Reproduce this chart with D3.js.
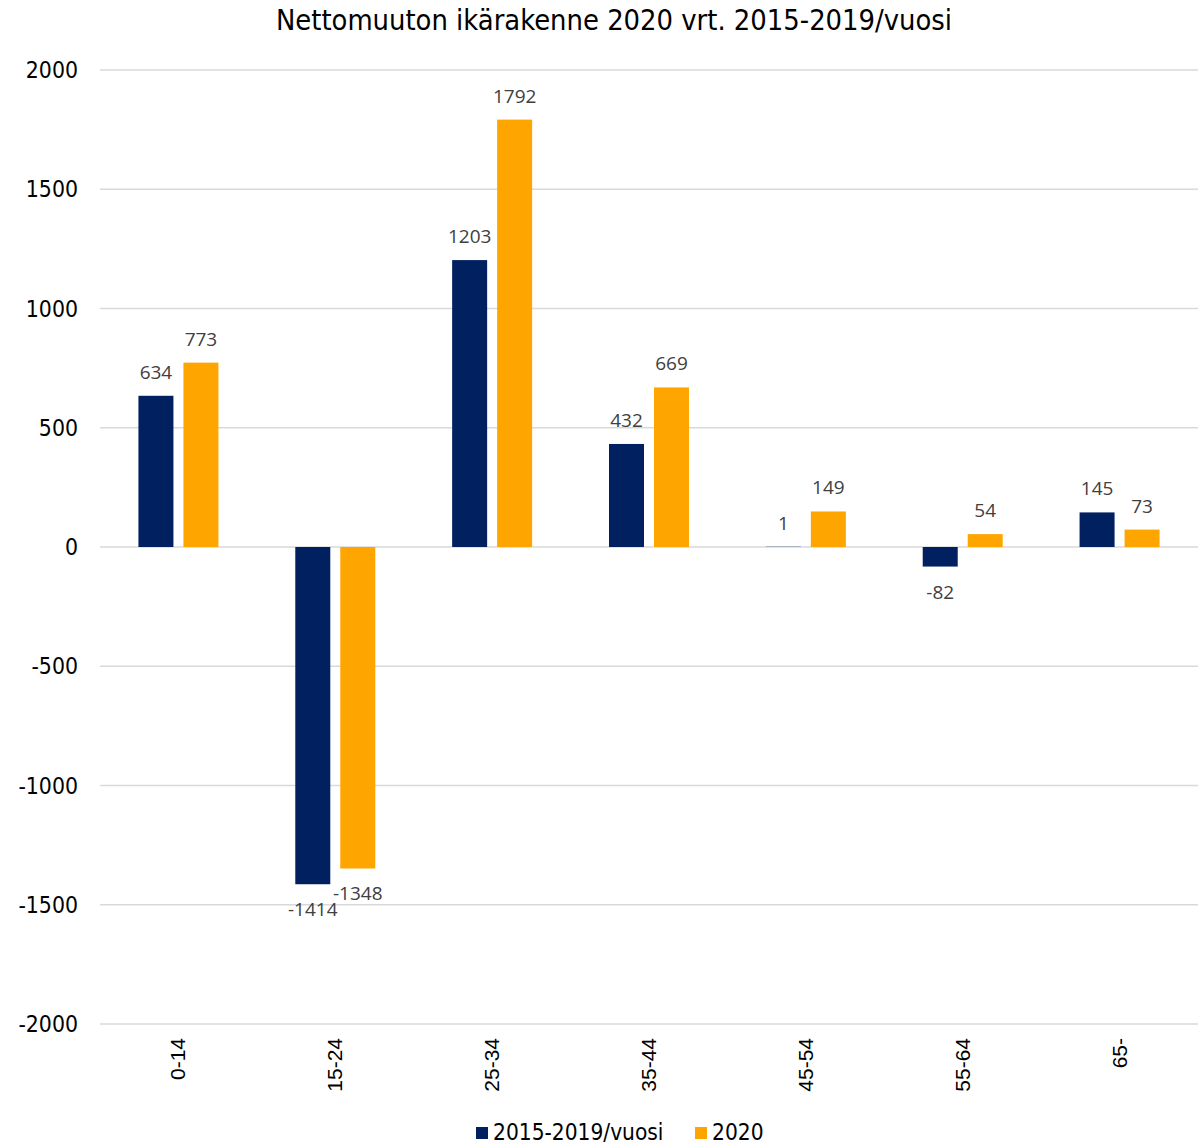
<!DOCTYPE html>
<html><head><meta charset="utf-8">
<script src="https://cdn.jsdelivr.net/npm/d3@7/dist/d3.min.js"></script>
<style>body{margin:0;background:#fff}</style>
</head><body>
<script>
const categories = ["0-14","15-24","25-34","35-44","45-54","55-64","65-"];
const seriesNames = ["2015-2019/vuosi","2020"];
const values2015_2019 = [634,-1414,1203,432,1,-82,145];
const values2020 = [773,-1348,1792,669,149,54,73];
const yTicks = [-2000,-1500,-1000,-500,0,500,1000,1500,2000];
const colors = ["#002060","#FFA500"];

(function(){
const W=1198,H=1148;
const svg=d3.select("body").append("svg").attr("width",W).attr("height",H);
const mLeft=100,mRight=1198,mTop=70,mBottom=1024;
const x=d3.scaleBand().domain(categories).range([mLeft,mRight]).paddingInner(0).paddingOuter(0);
const y=d3.scaleLinear().domain([-2000,2000]).range([mBottom,mTop]);
const barW=35,gap=10;

svg.append("text").attr("x",614).attr("y",30).attr("text-anchor","middle")
 .attr("font-family","DejaVu Sans Condensed, DejaVu Sans").attr("font-size",28.8).attr("fill","#000")
 .text("Nettomuuton ikärakenne 2020 vrt. 2015-2019/vuosi");

svg.append("g").selectAll("line").data(yTicks).join("line")
 .attr("x1",mLeft).attr("x2",mRight).attr("y1",d=>y(d)).attr("y2",d=>y(d))
 .attr("stroke","#d9d9d9").attr("stroke-width",1.5);
svg.append("g").selectAll("text").data(yTicks).join("text")
 .attr("x",78).attr("y",d=>y(d)+8).attr("text-anchor","end")
 .attr("font-family","DejaVu Sans Condensed, DejaVu Sans").attr("font-size",22.8).attr("fill","#000")
 .text(d=>d);

const series=[values2015_2019,values2020];
series.forEach((vals,si)=>{
  const off = si===0 ? -(gap/2+barW) : gap/2;
  const g=svg.append("g");
  g.selectAll("rect").data(vals).join("rect")
   .attr("x",(d,i)=>x(categories[i])+x.bandwidth()/2+off)
   .attr("width",barW)
   .attr("y",d=>Math.min(y(d),y(0)))
   .attr("height",d=>Math.abs(y(d)-y(0)))
   .attr("fill",colors[si]);
  g.selectAll("text").data(vals).join("text")
   .attr("x",(d,i)=>x(categories[i])+x.bandwidth()/2+off+barW/2)
   .attr("y",d=> d>=0 ? y(d)-17 : y(d)+32)
   .attr("text-anchor","middle")
   .attr("font-family","Open Sans, Noto Sans, sans-serif").attr("font-size",19).attr("fill","#404040")
   .text(d=>d);
});

svg.append("g").selectAll("text").data(categories).join("text")
 .attr("transform",d=>`translate(${x(d)+x.bandwidth()/2+7},1038) rotate(-90)`)
 .attr("text-anchor","end")
 .attr("font-family","Liberation Sans, Arial").attr("font-size",21).attr("fill","#000")
 .text(d=>d);

const leg=[{n:seriesNames[0],c:colors[0],x:476},{n:seriesNames[1],c:colors[1],x:695}];
leg.forEach(l=>{
  svg.append("rect").attr("x",l.x).attr("y",1127).attr("width",12).attr("height",12).attr("fill",l.c);
  svg.append("text").attr("x",l.x+17).attr("y",1140)
   .attr("font-family","DejaVu Sans Condensed, DejaVu Sans").attr("font-size",22.5).attr("fill","#000").text(l.n);
});
})();
</script>
</body></html>
